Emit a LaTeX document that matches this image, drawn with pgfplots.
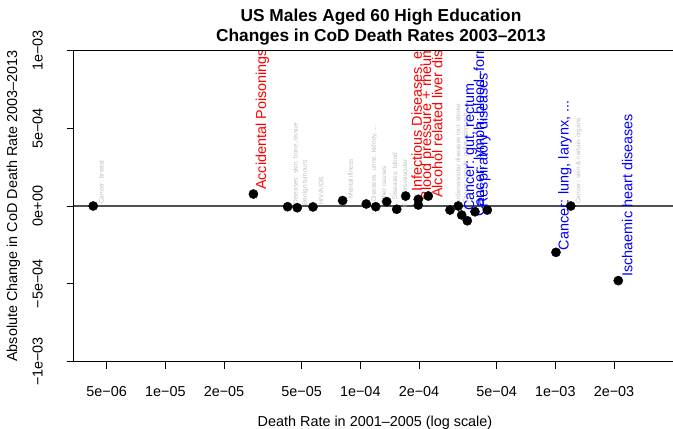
\documentclass[border=0pt]{standalone}
\usepackage{pgfplots}
\pgfplotsset{compat=1.18}
\usepackage{fontspec}
\setmainfont{Liberation Sans}
\definecolor{lblgray}{RGB}{190,190,190}
\definecolor{zline}{RGB}{80,80,80}
\newcommand{\fbase}{\fontsize{14.4bp}{17bp}\selectfont}
\newcommand{\fsmall}{\fontsize{6.5bp}{7.8bp}\selectfont}
\newcommand{\ftitle}{\fontsize{17.3bp}{20.7bp}\selectfont\bfseries}
\tikzset{
  gl/.style={font=\fsmall, text=lblgray, xshift=8bp, yshift=2bp, rotate=90, anchor=west, inner sep=0pt},
  rl/.style={font=\fbase, text=red, xshift=9bp, yshift=4bp, rotate=90, anchor=west, inner sep=0pt},
  bl/.style={font=\fbase, text=blue, xshift=9bp, yshift=4bp, rotate=90, anchor=west, inner sep=0pt},
}
\begin{document}
\begin{tikzpicture}
\path[use as bounding box] (-73.5bp,-67.5bp) rectangle (599.5bp,361.5bp);
\begin{axis}[
  name=ax, at={(0,0)}, anchor=south west,
  width=599.5bp, height=311bp, scale only axis,
  xmode=log, log basis x=10,
  xmin=3.382e-6, xmax=4.014e-3, ymin=-1e-3, ymax=1e-3,
  axis line style={draw=none},
  xtick={5e-6,1e-5,2e-5,5e-5,1e-4,2e-4,5e-4,1e-3,2e-3},
  xticklabels={5e−06,1e−05,2e−05,5e−05,1e−04,2e−04,5e−04,1e−03,2e−03},
  ytick={-1e-3,-5e-4,0,5e-4,1e-3},
  yticklabels={−1e−03,−5e−04,0e+00,5e−04,1e−03},
  scaled y ticks=false,
  minor xtick={}, minor ytick={},
  xtick pos=bottom, ytick pos=left, tick align=outside,
  major tick length=7bp,
  every tick/.style={black, line width=0.9bp},
  tick label style={font=\fbase},
  xticklabel style={anchor=base, yshift=-27.7bp},
  yticklabel style={xshift=-23.8bp, rotate=90, anchor=base},
]
\addplot[zline, line width=1.2bp] coordinates {(3.382e-6,0) (4.014e-3,0)};
\addplot[only marks, mark=*, mark size=4.6bp, black] table {
x y
4.27e-6 0
2.83e-5 7.7e-5
4.24e-5 -4.5e-6
4.75e-5 -1.1e-5
5.72e-5 -6e-6
8.12e-5 3.5e-5
1.073e-4 1.3e-5
1.20e-4 -4.5e-6
1.366e-4 2.8e-5
1.537e-4 -2.1e-5
1.709e-4 6.4e-5
1.984e-4 4.3e-5
1.984e-4 6.4e-6
2.232e-4 6.4e-5
2.884e-4 -2.6e-5
3.18e-4 0
3.311e-4 -5.8e-5
3.538e-4 -9.5e-5
3.875e-4 -3.7e-5
4.48e-4 -2.6e-5
1.008e-3 -2.98e-4
1.2e-3 0
2.104e-3 -4.80e-4
};
\node[gl] at (axis cs:4.27e-6,0) {Cancer: breast};
\node[rl] at (axis cs:2.83e-5,7.7e-5) {Accidental Poisonings};
\node[gl] at (axis cs:4.24e-5,-4.5e-6) {Diseases: skin, bone, tissue};
\node[gl] at (axis cs:4.75e-5,-1.1e-5) {Benign tumours};
\node[gl] at (axis cs:5.72e-5,-6e-6) {HIV/AIDS};
\node[gl] at (axis cs:8.12e-5,3.5e-5) {Mental illness};
\node[gl] at (axis cs:1.073e-4,1.3e-5) {Diseases: urine, kidney, ...};
\node[gl] at (axis cs:1.20e-4,-4.5e-6) {Other causes};
\node[gl] at (axis cs:1.366e-4,2.8e-5) {Diseases: blood};
\node[gl] at (axis cs:1.537e-4,-2.1e-5) {Cerebrovascular};
\node[gl] at (axis cs:2.884e-4,-2.6e-5) {Cardiovascular diseases incl. stroke};
\node[gl] at (axis cs:3.18e-4,0) {Cancer: mouth, gullet, stomach};
\node[gl] at (axis cs:1.2e-3,0) {Cancer: skin \& certain organs};
\node[rl, yshift=-3bp] at (axis cs:1.709e-4,6.4e-5) {Infectious Diseases, exc};
\node[rl, xshift=-5bp] at (axis cs:1.984e-4,4.3e-5) {Blood pressure + rheuma};
\node[rl, xshift=-6bp] at (axis cs:2.232e-4,6.4e-5) {Alcohol related liver dise};
\node[bl] at (axis cs:3.311e-4,-5.8e-5) {Cancer: gut, rectum};
\node[bl, yshift=-4bp] at (axis cs:3.538e-4,-9.5e-5) {Cancer: lymph, blood–form};
\node[bl] at (axis cs:3.875e-4,-3.7e-5) {Respiratory diseases};
\node[bl, xshift=-2bp] at (axis cs:1.008e-3,-2.98e-4) {Cancer: lung, larynx, ...};
\node[bl] at (axis cs:2.104e-3,-4.80e-4) {Ischaemic heart diseases};
\end{axis}
\draw[line width=0.9bp] (ax.south west) -- (ax.north west);
\draw[line width=0.9bp] ([xshift=-5bp]ax.south west) -- (ax.south east);
\draw[line width=0.9bp] (ax.north west) -- (ax.north east);
\node[font=\ftitle, anchor=base] at (307.5bp,340.3bp) {US Males Aged 60 High Education};
\node[font=\ftitle, anchor=base] at (307.5bp,319.8bp) {Changes in CoD Death Rates 2003–2013};
\node[font=\fbase, anchor=base] at (301.5bp,-64.5bp) {Death Rate in 2001–2005 (log scale)};
\node[font=\fbase, rotate=90, anchor=base] at (-56.3bp,155.5bp) {Absolute Change in CoD Death Rate 2003–2013};
\end{tikzpicture}
\end{document}
